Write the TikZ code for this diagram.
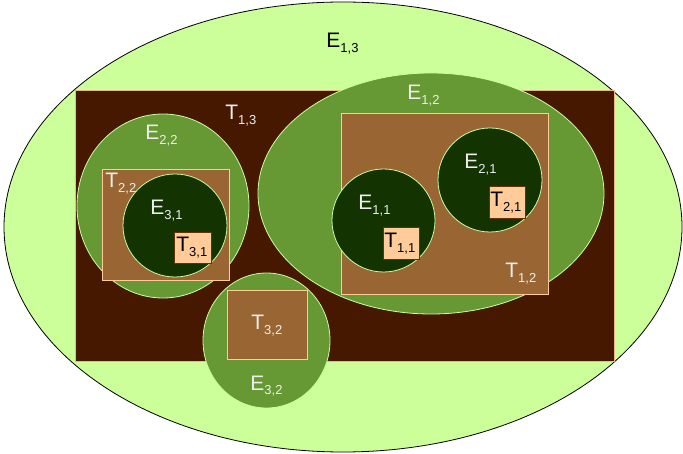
\documentclass[tikz,border=0pt]{standalone}
\usepackage{fontspec}
\setmainfont{Liberation Sans}
\usetikzlibrary{calc}

\definecolor{lightleaf}{HTML}{CCFF99}
\definecolor{soil}{HTML}{461800}
\definecolor{leaf}{HTML}{669933}
\definecolor{bark}{HTML}{996633}
\definecolor{forest}{HTML}{133300}
\definecolor{peach}{HTML}{FFCC99}
\definecolor{rim}{HTML}{E8B888}
\definecolor{boxrim}{HTML}{663300}
\definecolor{labgray}{HTML}{EEEEEE}

\newcommand{\lbl}[2]{#1\raisebox{-5pt}{\fontsize{13}{13}\selectfont #2}}

\begin{document}
\begin{tikzpicture}[x=1pt,y=-1pt,line width=0.8pt,
    lab/.style={anchor=base west,inner sep=0pt,text=labgray,
        font=\fontsize{21}{24}\selectfont},
    darklab/.style={lab,text=black},
    set/.style={fill=leaf,draw=lightleaf},
    inner/.style={fill=forest,draw=lightleaf},
    tile/.style={fill=bark,draw=peach},
    chip/.style={fill=peach,draw=boxrim}]

\useasboundingbox (0,0) rectangle (683,454);

%====================================================
% Livello 3: E13 e T13
%====================================================

\coordinate (C13) at (343,227);

\filldraw[fill=lightleaf,draw=black] (C13) ellipse [x radius=339pt,y radius=225pt];
\filldraw[fill=soil,draw=rim] (75,90) rectangle (614,361);

%====================================================
% Livello 2: E22, E12, E32
%====================================================

\coordinate (C22) at (163,206);
\coordinate (C12) at (431,193.5);
\coordinate (C32) at (266.5,340.5);

\filldraw[set] (C22) ellipse [x radius=86pt,y radius=92pt];
\filldraw[set] (C12) ellipse [x radius=173pt,y radius=120.5pt];
\filldraw[set] (C32) ellipse [x radius=63.5pt,y radius=67.5pt];

\filldraw[tile] (102,169) rectangle (229,280);
\filldraw[tile] (341,113) rectangle (548,294);
\filldraw[tile] (227,290) rectangle (307,359);

%====================================================
% Livello 1: E31, E11, E21
%====================================================

\coordinate (C31) at (175,225.5);
\coordinate (C11) at (383.5,220.5);
\coordinate (C21) at (490,180);

\filldraw[inner] (C31) ellipse [x radius=52pt,y radius=51.5pt];
\filldraw[inner] (C11) circle (51.5pt);
\filldraw[inner] (C21) circle (52pt);

\filldraw[chip] (174,232) rectangle (211,263);
\filldraw[chip] (383,227) rectangle (419,259);
\filldraw[chip] (489,186) rectangle (525,218);

%====================================================
% Etichette
%====================================================

\node[darklab] (e13) at (326,48) {\lbl{E}{1,3}};
\node[lab] (t13) at (225,120) {\lbl{T}{1,3}};

\node[lab] (e22) at (145,140) {\lbl{E}{2,2}};
\node[lab] (t22) at (105,188) {\lbl{T}{2,2}};
\node[lab] (e31) at (150,215) {\lbl{E}{3,1}};
\node[darklab] (t31) at (176,252) {\lbl{T}{3,1}};

\node[lab] (e12) at (407,100) {\lbl{E}{1,2}};
\node[lab] (t12) at (505,278) {\lbl{T}{1,2}};
\node[lab] (e11) at (358,210) {\lbl{E}{1,1}};
\node[darklab] (t11) at (384,248) {\lbl{T}{1,1}};
\node[lab] (e21) at (464,169) {\lbl{E}{2,1}};
\node[darklab] (t21) at (490,207) {\lbl{T}{2,1}};

\node[lab] (t32) at (251,330) {\lbl{T}{3,2}};
\node[lab] (e32) at (250,390) {\lbl{E}{3,2}};
\end{tikzpicture}
\end{document}
